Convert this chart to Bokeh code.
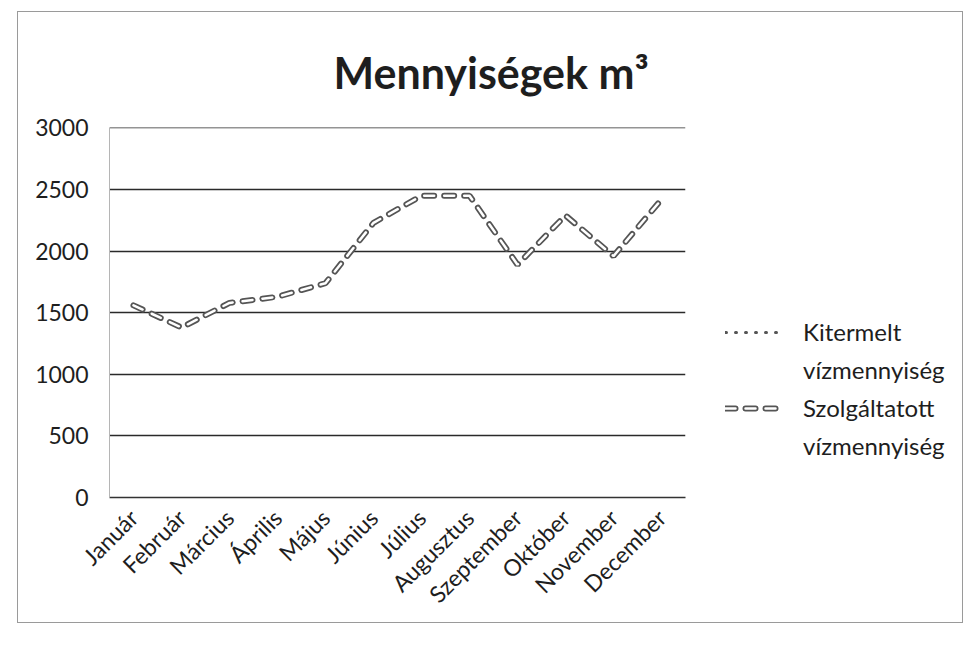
import math
import numpy as np
from bokeh.plotting import figure
from bokeh.models import Range1d, Legend, LegendItem, FixedTicker
from bokeh.embed import file_html
from bokeh.resources import INLINE

# ---- data ----
months = ["Január", "Február", "Március", "Április", "Május", "Június",
          "Július", "Augusztus", "Szeptember", "Október", "November", "December"]
szolgaltatott = [1560, 1380, 1580, 1630, 1740, 2230, 2450, 2450, 1890, 2290, 1960, 2420]
kitermelt = [np.nan, np.nan, np.nan, np.nan, np.nan, np.nan,
             np.nan, np.nan, np.nan, np.nan, np.nan, np.nan]
y_ticks = [0, 500, 1000, 1500, 2000, 2500, 3000]
title_text = "Mennyiségek m³"
label_kit = ["Kitermelt", "vízmennyiség"]
label_szolg = ["Szolgáltatott", "vízmennyiség"]

FONT = "Lato"
TXT = "#1e1e1e"

p = figure(x_range=months, y_range=Range1d(0, 3004),
           frame_width=576, frame_height=370,
           output_backend="svg", toolbar_location=None,
           min_border_left=91, min_border_right=0,
           min_border_top=115, min_border_bottom=125,
           title=title_text)
p.styles = {"border": "1px solid #9a9a9a", "margin-left": "17px", "margin-top": "11px",
            "width": "944px", "height": "610px", "box-sizing": "content-box",
            "overflow": "hidden"}
p.outline_line_color = None
p.background_fill_color = "white"

# title
p.title.align = "left"
p.title.offset = 224
p.title.standoff = 60
p.title.text_font = FONT
p.title.text_font_style = "bold"
p.title.text_font_size = "43px"
p.title.text_color = TXT

# axes
p.yaxis.ticker = FixedTicker(ticks=y_ticks)
p.yaxis.major_tick_line_color = None
p.yaxis.minor_tick_line_color = None
p.yaxis.axis_line_color = "#b5b5b5"
p.yaxis.major_label_standoff = 15
p.yaxis.major_label_text_font = FONT
p.yaxis.major_label_text_font_size = "23px"
p.yaxis.major_label_text_color = TXT

p.xaxis.major_tick_line_color = None
p.xaxis.minor_tick_line_color = None
p.xaxis.axis_line_color = "#333333"
p.xaxis.axis_line_width = 1.3
p.xaxis.major_label_orientation = math.pi / 4
p.xaxis.major_label_standoff = 10
p.xaxis.major_label_text_font = FONT
p.xaxis.major_label_text_font_size = "23px"
p.xaxis.major_label_text_color = TXT

p.xgrid.grid_line_color = None
p.ygrid.grid_line_color = "#2a2a2a"
p.ygrid.grid_line_width = 1.3

# series
r_kit = p.line(months, kitermelt, line_color="#555555", line_width=3,
               line_dash="1 9", line_cap="round")
r_s1 = p.line(months, szolgaltatott, line_color="#555555", line_width=6,
              line_dash="10 10", line_cap="round")
r_s2 = p.line(months, szolgaltatott, line_color="white", line_width=2.5,
              line_dash="10 10", line_cap="round")
# invisible carrier for the wrapped second line of each legend label
r_blank = p.line(months, kitermelt, line_alpha=0)

legend = Legend(items=[LegendItem(label=label_kit[0], renderers=[r_kit]),
                       LegendItem(label=label_kit[1], renderers=[r_blank]),
                       LegendItem(label=label_szolg[0], renderers=[r_s1, r_s2]),
                       LegendItem(label=label_szolg[1], renderers=[r_blank])],
                location=(40, 37), glyph_width=60, glyph_height=20,
                label_standoff=18, label_height=24,
                spacing=9, padding=0, margin=0,
                border_line_color=None, background_fill_alpha=0,
                label_text_font=FONT, label_text_font_size="24px",
                label_text_color=TXT)
p.add_layout(legend, "right")

open("out.html", "w").write(file_html(p, INLINE))
